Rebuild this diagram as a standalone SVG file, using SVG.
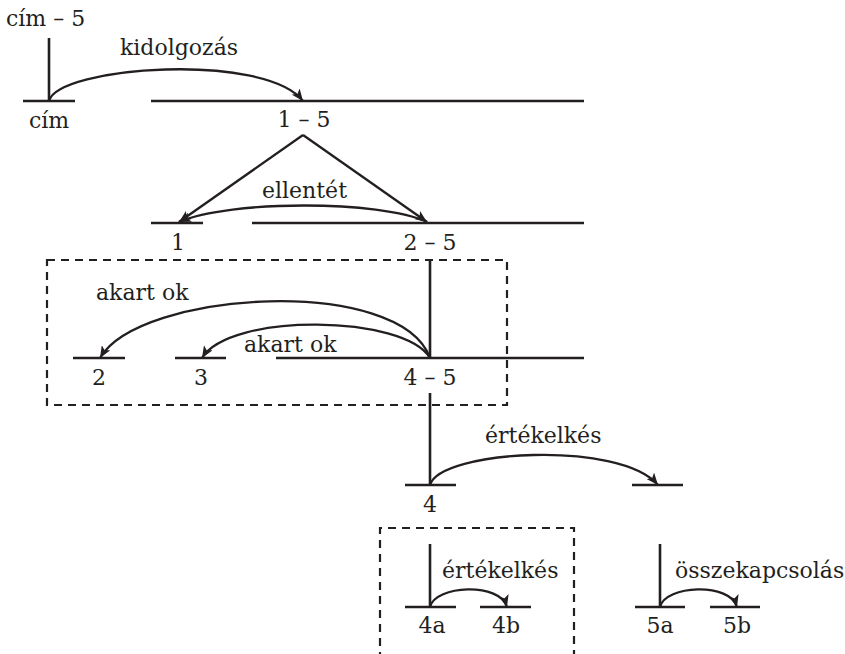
<svg xmlns="http://www.w3.org/2000/svg" width="845" height="654" viewBox="0 0 845 654">
<style>
.ln{stroke:#231f20;stroke-width:2.6;fill:none;stroke-linecap:butt}
.ar{stroke:#231f20;stroke-width:2.3;fill:none}
.box{stroke:#231f20;stroke-width:2.2;fill:none;stroke-dasharray:8 6}
text{font-family:"DejaVu Serif","Liberation Serif",serif;font-size:22px;fill:#231f20}
.m{text-anchor:middle}
</style>
<defs>
<marker id="ah" viewBox="0 0 12 10" refX="12" refY="5" markerWidth="12" markerHeight="10" markerUnits="userSpaceOnUse" orient="auto">
<path d="M0,0 L12,5 L0,10 L3,5 z" fill="#231f20"/>
</marker>
</defs>
<rect width="845" height="654" fill="#ffffff"/>
<g id="boxes">
<rect class="box" x="47" y="260" width="460" height="145"/>
<path class="box" d="M380,660 V528 H574 V660"/>
</g>
<g id="node-cim5">
<text x="6" y="26">cím – 5</text>
<line class="ln" x1="49" y1="38" x2="49" y2="101"/>
</g>
<g id="node-cim">
<line class="ln" x1="23" y1="101" x2="75" y2="101"/>
<text class="m" x="49" y="128">cím</text>
</g>
<g id="node-1-5">
<line class="ln" x1="151" y1="101" x2="584" y2="101"/>
<text class="m" x="304" y="127">1 – 5</text>
</g>
<g id="node-1">
<line class="ln" x1="151" y1="223" x2="203" y2="223"/>
<text class="m" x="178" y="250">1</text>
</g>
<g id="node-2-5">
<line class="ln" x1="252" y1="223" x2="584" y2="223"/>
<text class="m" x="430" y="250">2 – 5</text>
<line class="ln" x1="430" y1="260" x2="430" y2="358"/>
</g>
<g id="node-2">
<line class="ln" x1="73" y1="358" x2="125" y2="358"/>
<text class="m" x="99" y="385">2</text>
</g>
<g id="node-3">
<line class="ln" x1="175" y1="358" x2="226" y2="358"/>
<text class="m" x="201" y="385">3</text>
</g>
<g id="node-4-5">
<line class="ln" x1="276" y1="358" x2="584" y2="358"/>
<text class="m" x="430" y="385">4 – 5</text>
<line class="ln" x1="430" y1="393" x2="430" y2="485"/>
</g>
<g id="node-4">
<line class="ln" x1="405" y1="485" x2="456" y2="485"/>
<text class="m" x="430" y="512">4</text>
</g>
<g id="node-5">
<line class="ln" x1="632" y1="485" x2="683" y2="485"/>
</g>
<g id="node-4a">
<line class="ln" x1="430" y1="544" x2="430" y2="607"/>
<line class="ln" x1="405" y1="607" x2="456" y2="607"/>
<text class="m" x="432" y="633">4a</text>
</g>
<g id="node-4b">
<line class="ln" x1="480" y1="607" x2="531" y2="607"/>
<text class="m" x="506" y="633">4b</text>
</g>
<g id="node-5a">
<line class="ln" x1="660" y1="544" x2="660" y2="607"/>
<line class="ln" x1="635" y1="607" x2="685" y2="607"/>
<text class="m" x="660" y="633">5a</text>
</g>
<g id="node-5b">
<line class="ln" x1="710" y1="607" x2="760" y2="607"/>
<text class="m" x="737" y="633">5b</text>
</g>
<g id="connectors">
<path class="ar" d="M49,101 C58,66 265,52 303,101" marker-end="url(#ah)"/>
<path class="ar" d="M303,135 L179,222" marker-end="url(#ah)"/>
<path class="ar" d="M303,135 L427,222" marker-end="url(#ah)"/>
<path class="ar" d="M427,222 C380,200 230,200 179,222" marker-end="url(#ah)"/>
<path class="ar" d="M430,358 C400,275 140,290 100,358" marker-end="url(#ah)"/>
<path class="ar" d="M430,358 C405,315 230,312 202,358" marker-end="url(#ah)"/>
<path class="ar" d="M430,485 C440,450 620,440 658,485" marker-end="url(#ah)"/>
<path class="ar" d="M430,607 C435,585 500,582 507,607" marker-end="url(#ah)"/>
<path class="ar" d="M660,607 C665,585 730,582 737,607" marker-end="url(#ah)"/>
</g>
<g id="labels">
<text x="120" y="55">kidolgozás</text>
<text x="262" y="198">ellentét</text>
<text x="96" y="300">akart ok</text>
<text x="244" y="352">akart ok</text>
<text x="485" y="443">értékelkés</text>
<text x="442" y="578">értékelkés</text>
<text x="675" y="578">összekapcsolás</text>
</g>
</svg>
